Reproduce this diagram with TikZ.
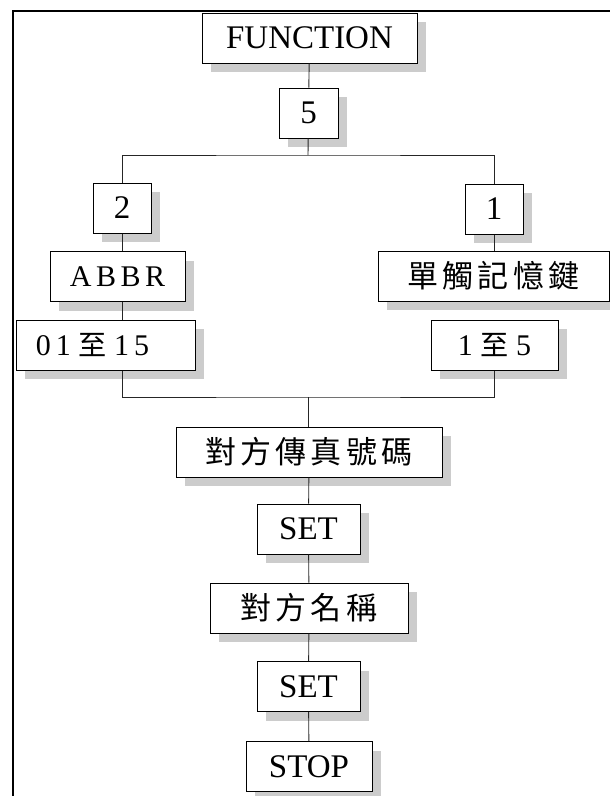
\documentclass[tikz,border=0pt]{standalone}
\usepackage{fontspec}
\setmainfont{Liberation Serif}
\newfontfamily\cjk[Scale=0.94,LetterSpace=13]{Noto Sans CJK TC}
\usetikzlibrary{shadows}

\begin{document}
\begin{tikzpicture}[x=1pt, y=-1pt,
    box/.style={draw, line width=1pt, fill=white, minimum height=50pt, minimum width=#1, inner sep=2pt,
        font=\fontsize{33}{36}\selectfont,
        drop shadow={shadow xshift=9pt, shadow yshift=-9pt, fill=black!20, opacity=1}},
    box/.default=60pt,
    digits/.style={font=\fontsize{30}{34}\selectfont},
    link/.style={line width=0.9pt, black!85}
]
\useasboundingbox (0,0) rectangle (610,796);
% outer frame
\draw[line width=2.8pt] (13,11) rectangle (640,830);

% main entry
\node[box=215pt] (function) at (309.5,38) {FUNCTION};
\node[box=59pt] (five) at (308.5,113) {5};

% left branch
\node[box=58pt] (two) at (122,208) {2};
\node[box=135pt, digits] (abbr) at (117.5,276.5) {\addfontfeature{LetterSpace=15}ABBR};
\node[box=179pt, digits] (range15) at (105.5,345) {0\,1 {\cjk 至} 1\,5\kern26pt};

% right branch
\node[box=58pt] (one) at (494,209) {1};
\node[box=231pt] (memkey) at (493.5,276) {\cjk 單觸記憶鍵};
\node[box=127pt, digits] (range5) at (494.5,345) {1 {\cjk 至} 5};

% common tail
\node[box=266pt] (faxno) at (309,452) {\cjk 對方傳真號碼};
\node[box=103pt] (setA) at (308.5,529) {SET};
\node[box=198pt] (name) at (309,608) {\cjk 對方名稱};
\node[box=103pt] (setB) at (308.5,686.5) {SET};
\node[box=126pt] (stop) at (309,766.5) {STOP};

% connectors
\coordinate (split) at (308,155);
\coordinate (merge) at (308,397);
\draw[link] (function) -- (five);
\draw[link] (five) -- (split);
\draw[link] (two.north) |- (split) -| (one.north);
\draw[link] (two) -- (two |- abbr.north);
\draw[link] (abbr.south -| two) -- (two |- range15.north);
\draw[link] (one) -- (one |- memkey.north);
\draw[link] (range15.south -| two) |- (merge) -| (range5.south);
\draw[link] (merge) -- (merge |- faxno.north);
\draw[link] (faxno) -- (setA);
\draw[link] (setA) -- (name);
\draw[link] (name) -- (setB);
\draw[link] (setB) -- (stop);
\end{tikzpicture}
\end{document}
